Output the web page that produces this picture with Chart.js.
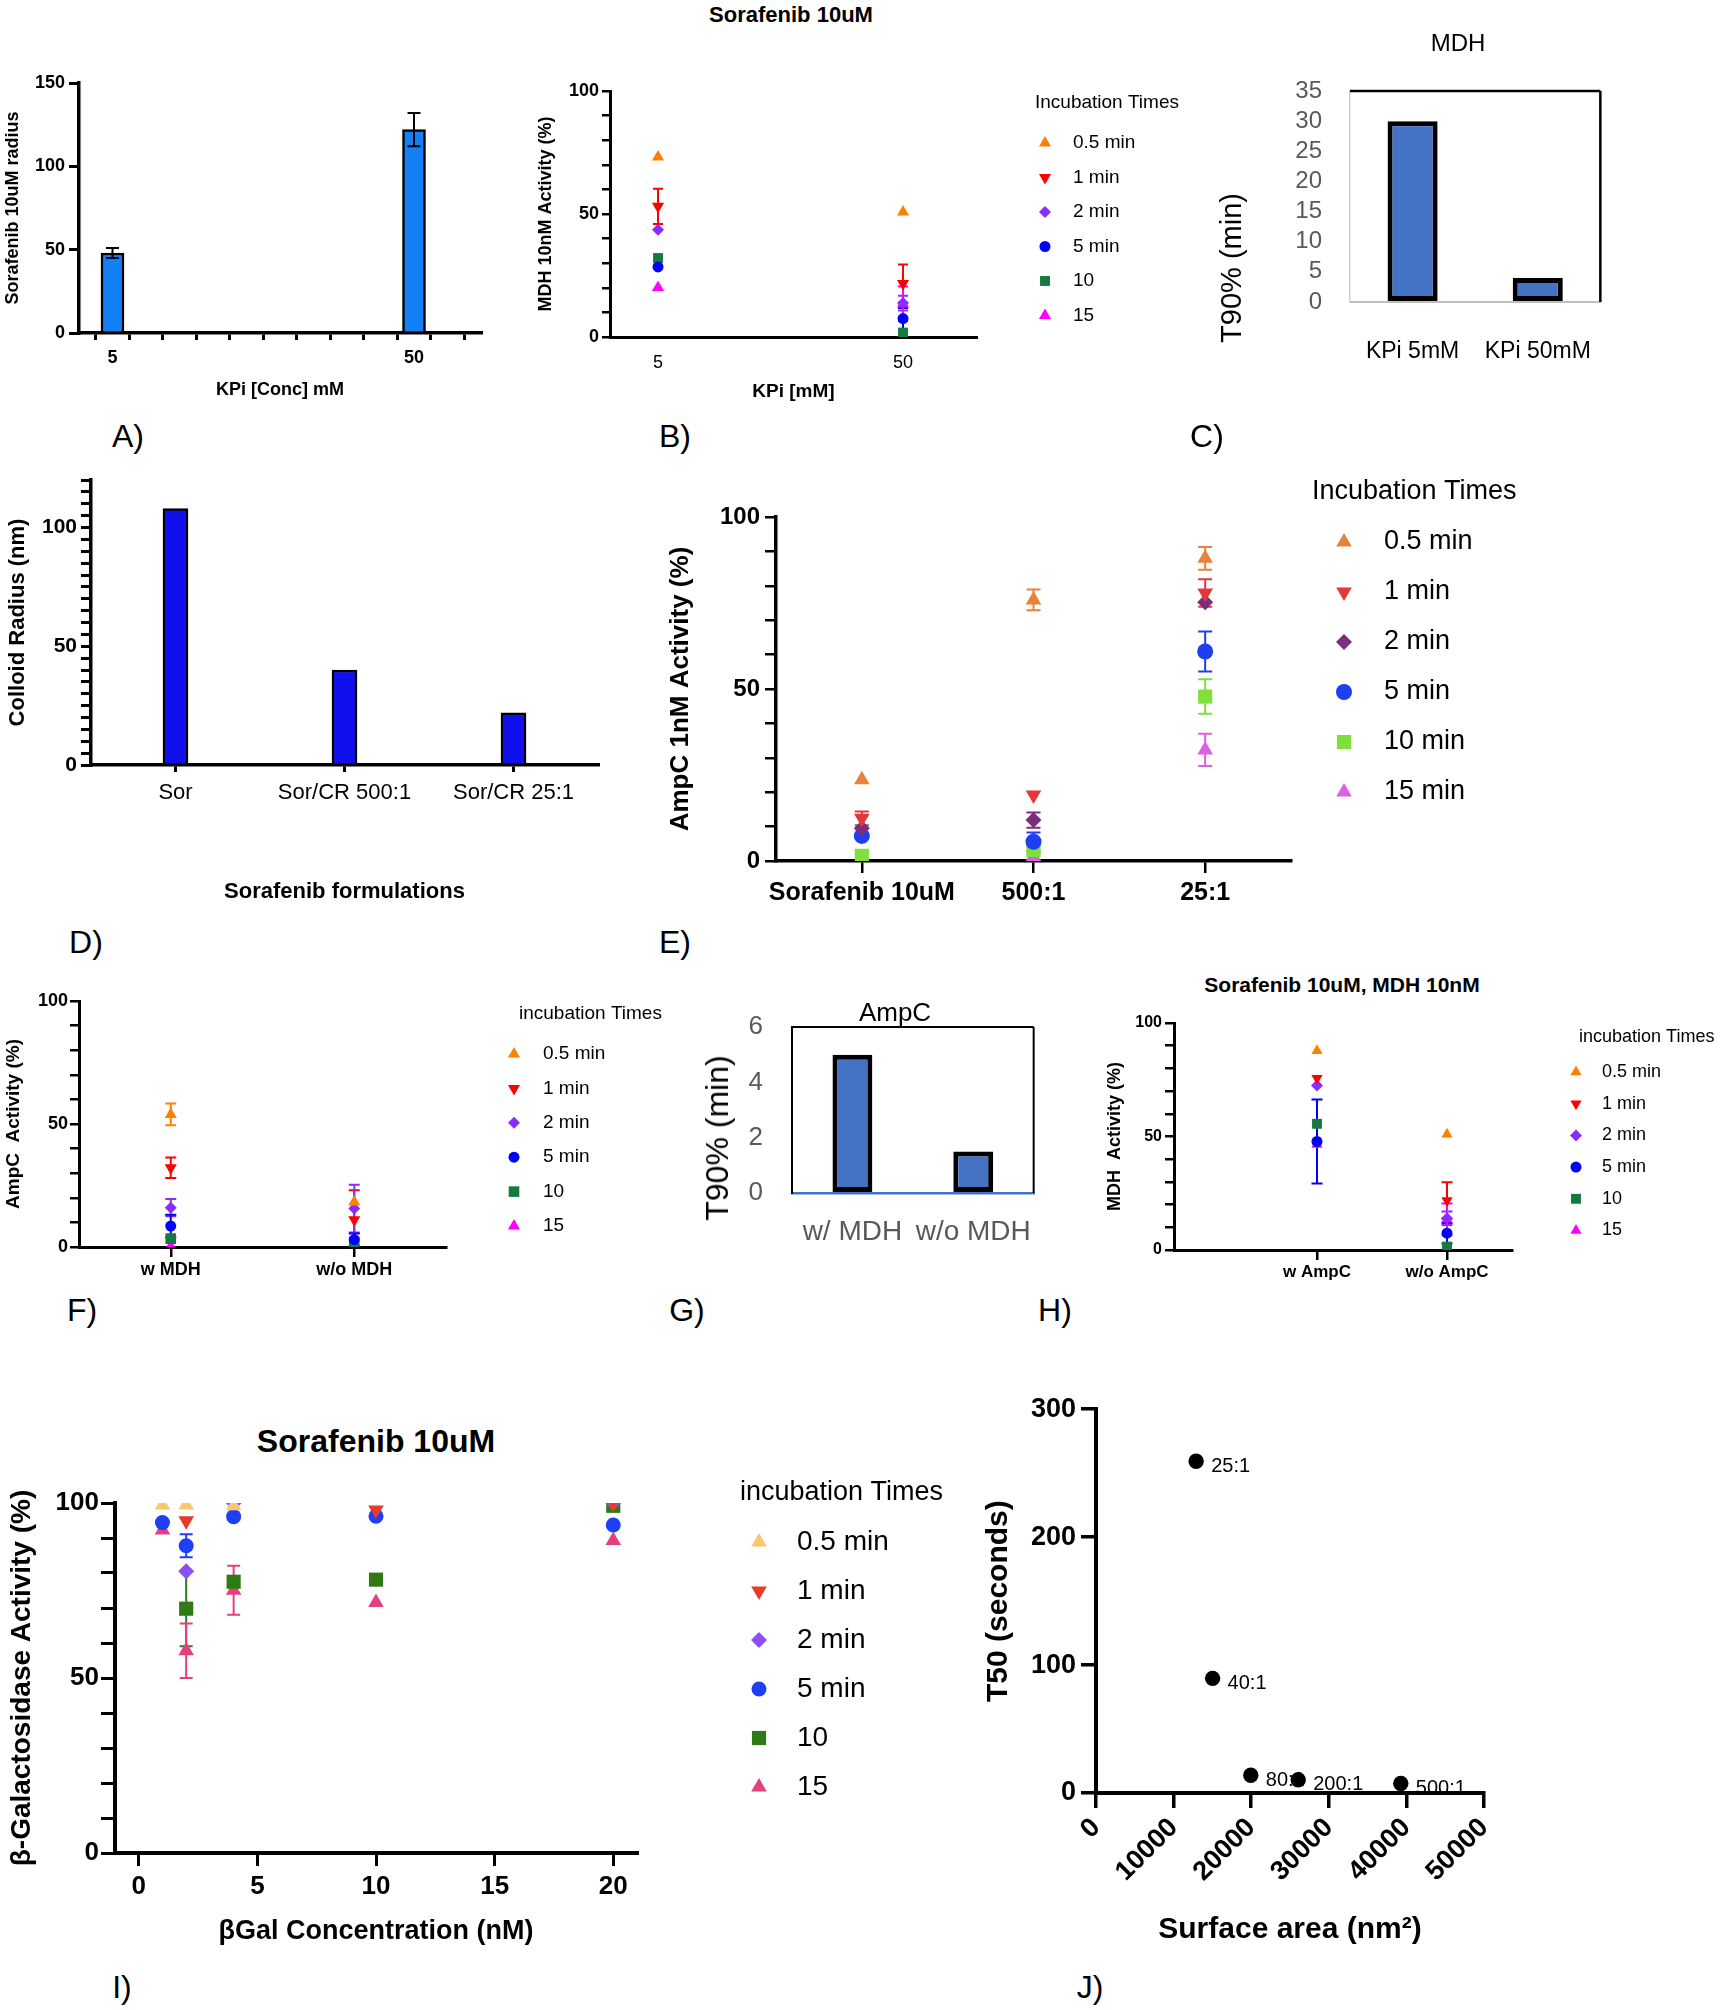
<!DOCTYPE html>
<html><head><meta charset="utf-8">
<script src="https://cdn.jsdelivr.net/npm/chart.js@4.4.1/dist/chart.umd.min.js"></script>
<style>
html,body{margin:0;padding:0;background:#fff;}
body{position:relative;width:1720px;height:2010px;overflow:hidden;font-family:"Liberation Sans",Arial,sans-serif;}
.cbox{position:absolute;}
.lbl{position:absolute;transform:translate(-50%,-50%);white-space:nowrap;line-height:1;color:#000;}
.lbl.rot{transform:translate(-50%,-50%) rotate(-90deg);}
</style></head><body>
<script>
// ---------------- DATA ----------------
const A_conc = [5, 50];
const A_radius = [48, 122];
const A_err = [3, 10];
const A_xTicks = [0,5,10,15,20,25,30,35,40,45,50,55,60];
const A_xLabeled = [5, 50];

const B_kpi = ['5', '50'];
const B_times = ['0.5 min','1 min','2 min','5 min','10','15'];
const B_activity = [[73.2,50.8],[53.1,21.7],[43.6,13.8],[28.5,7.5],[32.1,1.8],[20.1,13.5]];
const B_err = [[0,0],[7.2,7.8],[0,3],[0,4.3],[0,0],[0,7]];

const C_cats = ['KPi 5mM','KPi 50mM'];
const C_t90 = [30, 4];

const D_cats = ['Sor','Sor/CR 500:1','Sor/CR 25:1'];
const D_radius = [108, 40, 22];

const E_cats = ['Sorafenib 10uM','500:1','25:1'];
const E_times = ['0.5 min','1 min','2 min','5 min','10 min','15 min'];
const E_activity = [[23.6,75.9,88],[12.4,19.2,77.9],[9.5,11.9,75.2],[7.3,5.6,60.9],[1.3,3.2,47.8],[0.5,1.3,32.3]];
const E_err = [[0,3,3.3],[2,0,4],[0,2.2,0],[0,2.7,5.8],[2,1,5],[0,0,4.7]];

const F_cats = ['w MDH','w/o MDH'];
const F_times = ['0.5 min','1 min','2 min','5 min','10','15'];
const F_activity = [[53.9,18.3],[32.2,11.1],[16,15.6],[8.5,3],[3.4,2],[0.3,0.7]];
const F_err = [[4.4,0],[4.2,12],[3.5,9.7],[4.6,2.5],[0,0],[0,0]];

const G_cats = ['w/ MDH','w/o MDH'];
const G_t90 = [5, 1.5];

const H_cats = ['w AmpC','w/o AmpC'];
const H_times = ['0.5 min','1 min','2 min','5 min','10','15'];
const H_activity = [[87.8,51],[75.7,21.8],[72.5,14],[47.8,7.4],[55.6,1.5],[46.5,13.5]];
const H_err = [[0,0],[0,8],[0,3],[18.5,4.5],[0,0],[0,7]];

const I_conc = [1, 2, 4, 10, 20];
const I_times = ['0.5 min','1 min','2 min','5 min','10','15'];
const I_activity = [
  [99.4, 99.4, 99.2, null, null],
  [null, 94.9, null, 98, 100],
  [null, 80.5, 100, null, 100],
  [94.4, 87.8, 96.1, 96.2, 93.7],
  [null, 69.8, 77.5, 78.1, 99.2],
  [92.3, 57.8, 75.1, 71.6, 89.3]];
const I_err = [[0,0,0,0,0],[0,0,0,0,0],[0,0,0,0,0],[0,3.3,0,0,0],[0,10.7,0,0,0],[0,7.8,7,0,0]];
const I_xTicks = [0, 5, 10, 15, 20];

const J_area = [12905, 15025, 19950, 26060, 39277];
const J_t50 = [259.3, 89.6, 13.9, 10.3, 7.4];
const J_ratio = ['25:1','40:1','80:1','200:1','500:1'];

// ---------------- STYLES ----------------
const FF = '"Liberation Sans", Arial, Helvetica, sans-serif';
const STYLES = [{s:'triangle',r:0},{s:'triangle',r:180},{s:'rectRot',r:0},{s:'circle',r:0},{s:'rect',r:0},{s:'triangle',r:0}];
const PAL_GP = ['#ff8000','#ff0000','#8a2cff','#0000ff','#16793f','#ff00ff'];
const PAL_E = ['#e8813a','#e23838','#7a2e7c','#1e3ff0','#7fe03c','#dc60e2'];
const PAL_I = ['#f9c86e','#e53a2d','#8c4ef5','#1f3ff5','#2f7a14','#e2407f'];

Chart.defaults.font.family = FF;
Chart.defaults.color = '#000';
Chart.defaults.animation = false;
Chart.defaults.plugins.legend.display = false;
Chart.defaults.plugins.tooltip.enabled = false;

function drawMarker(ctx, style, x, y, r, rot) {
  ctx.beginPath();
  if (style === 'circle') ctx.arc(x, y, r, 0, Math.PI * 2);
  else if (style === 'rect') { const s = r * Math.SQRT1_2; ctx.rect(x - s, y - s, 2 * s, 2 * s); }
  else if (style === 'rectRot') { ctx.moveTo(x - r, y); ctx.lineTo(x, y - r); ctx.lineTo(x + r, y); ctx.lineTo(x, y + r); ctx.closePath(); }
  else {
    let a = (rot || 0) * Math.PI / 180;
    for (let k = 0; k < 3; k++) { const px = x + Math.sin(a) * r, py = y - Math.cos(a) * r; if (k) ctx.lineTo(px, py); else ctx.moveTo(px, py); a += 2 * Math.PI / 3; }
    ctx.closePath();
  }
  ctx.fill();
}

function drawErr(chart, o) {
  const ctx = chart.ctx, a = chart.chartArea;
  ctx.save();
  ctx.beginPath(); ctx.rect(a.left - 20, a.top - 20, a.right - a.left + 40, a.bottom - a.top + 19); ctx.clip();
  chart.data.datasets.forEach((ds, i) => {
    if (!ds.errors) return;
    const meta = chart.getDatasetMeta(i);
    const ys = chart.scales[meta.yAxisID];
    meta.data.forEach((el, j) => {
      const e = ds.errors[j], d = ds.data[j];
      const v = (d !== null && typeof d === 'object') ? d.y : d;
      if (!e || v === null || v === undefined) return;
      const x = el.x, y1 = ys.getPixelForValue(v + e), y2 = ys.getPixelForValue(v - e), c = o.cap / 2;
      ctx.strokeStyle = ds.errorColor || ds.borderColor;
      ctx.lineWidth = o.lineWidth;
      ctx.beginPath();
      ctx.moveTo(x, y1); ctx.lineTo(x, y2);
      ctx.moveTo(x - c, y1); ctx.lineTo(x + c, y1);
      ctx.moveTo(x - c, y2); ctx.lineTo(x + c, y2);
      ctx.stroke();
    });
  });
  ctx.restore();
}
const errorBars = {
  id: 'errorBars',
  beforeDatasetsDraw(chart, args, o) { if (o && o.cap && !o.above) drawErr(chart, o); },
  afterDatasetsDraw(chart, args, o) { if (o && o.cap && o.above) drawErr(chart, o); }
};
const sideLegend = {
  id: 'sideLegend',
  afterDraw(chart, args, o) {
    if (!o || !o.title) return;
    const ctx = chart.ctx, ox = o.ox, oy = o.oy;
    ctx.save();
    ctx.textBaseline = 'middle'; ctx.textAlign = 'left'; ctx.fillStyle = '#000';
    ctx.font = o.titleSize + 'px ' + FF;
    ctx.fillText(o.title, o.titleX - ox, o.titleY - oy);
    ctx.font = o.size + 'px ' + FF;
    chart.data.datasets.forEach((ds, i) => {
      const y = o.y0 + i * o.dy - oy;
      ctx.fillStyle = ds.backgroundColor;
      drawMarker(ctx, ds.pointStyle, o.markerX - ox, y, ds.pointRadius * (o.rScale || 1), ds.pointRotation);
      ctx.fillStyle = '#000';
      ctx.fillText(ds.label, o.textX - ox, y);
    });
    ctx.restore();
  }
};
const frame = {
  id: 'frame',
  afterDraw(chart, args, o) {
    if (!o || !o.sides) return;
    const ctx = chart.ctx, a = chart.chartArea;
    ctx.save();
    o.sides.forEach(s => {
      ctx.strokeStyle = s.color; ctx.lineWidth = s.width; ctx.beginPath();
      if (s.side === 'top') { ctx.moveTo(a.left, a.top); ctx.lineTo(a.right, a.top); }
      if (s.side === 'right') { ctx.moveTo(a.right, a.top); ctx.lineTo(a.right, a.bottom); }
      if (s.side === 'left') { ctx.moveTo(a.left, a.top); ctx.lineTo(a.left, a.bottom); }
      if (s.side === 'bottom') { ctx.moveTo(a.left, a.bottom); ctx.lineTo(a.right, a.bottom); }
      ctx.stroke();
    });
    ctx.restore();
  }
};
const pointLabels = {
  id: 'pointLabels',
  beforeDatasetsDraw(chart, args, o) {
    if (!o || !o.labels) return;
    const ctx = chart.ctx, meta = chart.getDatasetMeta(0);
    ctx.save(); ctx.font = o.size + 'px ' + FF; ctx.fillStyle = '#000'; ctx.textBaseline = 'middle'; ctx.textAlign = 'left';
    meta.data.forEach((el, j) => ctx.fillText(o.labels[j], el.x + o.dx, el.y + o.dy));
    ctx.restore();
  }
};
Chart.register(errorBars, sideLegend, frame, pointLabels);

function linAxis(p) {
  return {
    type: 'linear', min: p.min, max: p.max, offset: false,
    afterBuildTicks: p.ticks ? (sc => { sc.ticks = p.ticks.map(v => ({value: v})); }) : undefined,
    ticks: {stepSize: p.step, autoSkip: false, maxRotation: p.rot || 0, minRotation: p.rot || 0, padding: p.pad || 3,
      color: p.color || '#000', font: {size: p.size, weight: p.bold ? 'bold' : 'normal'},
      callback: p.fmt || (v => v)},
    grid: {display: true, drawOnChartArea: false, drawTicks: (p.tl || 0) > 0, tickLength: p.tl || 0, tickWidth: p.tw || 2, lineWidth: p.tw || 2, tickColor: '#000', color: '#000'},
    border: {display: true, color: p.bc || '#000', width: p.bw},
    title: p.title ? {display: true, text: p.title, color: '#000', font: {size: p.tsize, weight: p.tbold ? 'bold' : 'normal'}} : {display: false}
  };
}
function catAxis(p) {
  return {
    type: 'category', offset: true,
    ticks: {autoSkip: false, maxRotation: 0, minRotation: 0, padding: 3, color: p.color || '#000', font: {size: p.size, weight: p.bold ? 'bold' : 'normal'}},
    grid: {display: true, drawOnChartArea: false, offset: false, drawTicks: (p.tl || 0) > 0, tickLength: p.tl || 0, tickWidth: p.tw || 2, lineWidth: p.tw || 2, tickColor: '#000', color: '#000'},
    border: {display: true, color: p.bc || '#000', width: p.bw},
    title: p.title ? {display: true, text: p.title, color: '#000', font: {size: p.tsize, weight: p.tbold ? 'bold' : 'normal'}} : {display: false}
  };
}
function seriesSets(names, vals, errs, colors, radii, xVals) {
  return names.map((n, i) => ({
    label: n,
    data: xVals ? vals[i].map((v, k) => ({x: xVals[k], y: v})) : vals[i],
    errors: errs ? errs[i] : null,
    pointStyle: STYLES[i].s, pointRotation: STYLES[i].r, pointRadius: radii[i], pointHoverRadius: radii[i],
    backgroundColor: colors[i], borderColor: colors[i], pointBackgroundColor: colors[i], pointBorderWidth: 0, borderWidth: 0, showLine: false
  }));
}
function make(area, s, config) {
  const padL = s.padL || 0, padB = s.padB || 0;
  const left = area.l - s.yW - padL, top = area.t - s.padT;
  const W = area.r - area.l + s.yW + padL + s.padR;
  const H = area.b - area.t + s.padT + s.xH + padB;
  const div = document.createElement('div'); div.className = 'cbox';
  div.style.left = left + 'px'; div.style.top = top + 'px'; div.style.width = W + 'px'; div.style.height = H + 'px';
  const cv = document.createElement('canvas'); cv.width = W; cv.height = H; cv.style.width = W + 'px'; cv.style.height = H + 'px';
  div.appendChild(cv); document.body.appendChild(div);
  const o = config.options;
  o.responsive = false; o.animation = false;
  o.layout = {padding: {left: padL, top: s.padT, right: s.padR, bottom: padB}};
  const x = o.scales.x, y = o.scales.y;
  x.afterFit = sc => { sc.height = s.xH; };
  y.afterFit = sc => { sc.width = s.yW; };
  const ytl = y.grid.drawTicks ? y.grid.tickLength : 0;
  const xtl = x.grid.drawTicks ? x.grid.tickLength : 0;
  if (s.yLabelR != null) y.ticks.padding = area.l - ytl - s.yLabelR;
  if (s.xLabelY != null) x.ticks.padding = s.xLabelY - area.b - xtl - 0.6 * x.ticks.font.size;
  if (s.yTitleX != null) y.title.padding = {top: s.yTitleX - (area.l - s.yW) - 0.6 * y.title.font.size, bottom: 0};
  if (s.xTitleY != null) x.title.padding = {top: 0, bottom: area.b + s.xH - 0.6 * x.title.font.size - s.xTitleY};
  o.plugins = o.plugins || {};
  if (o.plugins.sideLegend) { o.plugins.sideLegend.ox = left; o.plugins.sideLegend.oy = top; }
  return new Chart(cv, config);
}
function addText(t, cx, cy, size, weight, color, rot) {
  const d = document.createElement('div'); d.className = 'lbl' + (rot ? ' rot' : ''); d.textContent = t;
  d.style.left = cx + 'px'; d.style.top = cy + 'px'; d.style.fontSize = size + 'px';
  d.style.fontWeight = weight || 'normal'; if (color) d.style.color = color;
  document.body.appendChild(d);
}

// ---------------- PANEL A ----------------
make({l: 79, t: 83, r: 481, b: 333}, {yW: 79, xH: 72, padT: 20, padR: 20, yLabelR: 65, xLabelY: 358, yTitleX: 13, xTitleY: 390}, {
  type: 'bar',
  data: {datasets: [{label: 'Sorafenib 10uM radius', data: A_conc.map((c, k) => ({x: c, y: A_radius[k]})), errors: A_err,
    backgroundColor: '#1380f5', borderColor: '#000', errorColor: '#000', borderWidth: 2.5, barThickness: 23}]},
  options: {
    scales: {
      x: linAxis({min: 0, max: 60, ticks: A_xTicks, size: 18, bold: true, tl: 7, tw: 3, bw: 3.5,
        fmt: v => A_xLabeled.includes(v) ? String(v) : '', title: 'KPi [Conc] mM', tsize: 18, tbold: true}),
      y: linAxis({min: 0, max: 150, step: 50, size: 18, bold: true, tl: 10, tw: 3, bw: 3.5, title: 'Sorafenib 10uM radius', tsize: 18, tbold: true})
    },
    plugins: {errorBars: {cap: 13, lineWidth: 2, above: true}}
  }
});

// ---------------- PANEL B ----------------
make({l: 610, t: 91, r: 977, b: 337}, {yW: 80, xH: 70, padT: 30, padR: 213, yLabelR: 599, xLabelY: 363, yTitleX: 546, xTitleY: 392}, {
  type: 'scatter',
  data: {datasets: seriesSets(B_times, B_activity, B_err, PAL_GP, [7, 7, 6, 5.5, 7, 7], [0, 1])},
  options: {
    scales: {
      x: linAxis({min: -0.196, max: 1.302, ticks: [0, 1], size: 18, tl: 0, bw: 3, fmt: v => B_kpi[v], title: 'KPi [mM]', tsize: 19, tbold: true}),
      y: linAxis({min: 0, max: 100, step: 10, size: 18, bold: true, tl: 8, tw: 2.5, bw: 3,
        fmt: v => [0, 50, 100].includes(v) ? String(v) : '', title: 'MDH 10nM Activity (%)', tsize: 18, tbold: true})
    },
    plugins: {
      errorBars: {cap: 10, lineWidth: 2},
      sideLegend: {title: 'Incubation Times', titleX: 1035, titleY: 103, titleSize: 19, size: 19, markerX: 1045, textX: 1073, y0: 143, dy: 34.5}
    }
  }
});
addText('Sorafenib 10uM', 791, 15, 22, 'bold');

// ---------------- PANEL C ----------------
make({l: 1350, t: 91, r: 1612, b: 302}, {yW: 150, xH: 80, padT: 50, padR: 20, yLabelR: 1322, xLabelY: 352}, {
  type: 'bar',
  data: {labels: C_cats, datasets: [{label: 'T90%', data: C_t90, backgroundColor: '#4472c4', borderColor: '#000', borderWidth: 5, borderSkipped: false, barPercentage: 0.4, categoryPercentage: 1}]},
  options: {
    scales: {
      x: catAxis({size: 23, tl: 0, bw: 2, bc: '#bfbfbf'}),
      y: linAxis({min: 0, max: 35, step: 5, size: 24, color: '#595959', tl: 0, bw: 1.5, bc: '#d0d0d0'})
    },
    plugins: {frame: {sides: [{side: 'top', color: '#000', width: 2.5}, {side: 'right', color: '#000', width: 2.5}]}}
  }
});
addText('MDH', 1458, 43, 24);
addText('T90% (min)', 1231, 268, 29, 'normal', '#000', true);

// ---------------- PANEL D ----------------
make({l: 91, t: 480, r: 598, b: 765}, {yW: 91, xH: 145, padT: 20, padR: 20, yLabelR: 77, xLabelY: 793, yTitleX: 18, xTitleY: 892}, {
  type: 'bar',
  data: {labels: D_cats, datasets: [{label: 'Colloid Radius (nm)', data: D_radius, backgroundColor: '#1010ee', borderColor: '#000', borderWidth: 2.5, barThickness: 25}]},
  options: {
    scales: {
      x: Object.assign(catAxis({size: 22, tl: 7, tw: 3, bw: 3.5, title: 'Sorafenib formulations', tsize: 22, tbold: true}), {offset: true}),
      y: linAxis({min: 0, max: 120, step: 5, size: 21, bold: true, tl: 10, tw: 3, bw: 3.5,
        fmt: v => [0, 50, 100].includes(v) ? String(v) : '', title: 'Colloid Radius (nm)', tsize: 22, tbold: true})
    }
  }
});

// ---------------- PANEL E ----------------
make({l: 776, t: 517, r: 1291, b: 861}, {yW: 116, xH: 60, padT: 45, padR: 240, yLabelR: 760, xLabelY: 893, yTitleX: 681}, {
  type: 'line',
  data: {labels: E_cats, datasets: seriesSets(E_times, E_activity, E_err, PAL_E, [9, 9, 8, 8, 10, 9])},
  options: {
    scales: {
      x: catAxis({size: 25, bold: true, tl: 12, tw: 2.5, bw: 3.5}),
      y: linAxis({min: 0, max: 100, step: 10, size: 24, bold: true, tl: 11, tw: 2.5, bw: 3.5,
        fmt: v => [0, 50, 100].includes(v) ? String(v) : '', title: 'AmpC 1nM Activity (%)', tsize: 26, tbold: true})
    },
    plugins: {
      errorBars: {cap: 14, lineWidth: 2},
      sideLegend: {title: 'Incubation Times', titleX: 1312, titleY: 492, titleSize: 27, size: 27, markerX: 1344, textX: 1384, y0: 542, dy: 50}
    }
  }
});

// ---------------- PANEL F ----------------
make({l: 79, t: 1001, r: 446, b: 1247}, {yW: 79, xH: 40, padT: 25, padR: 234, yLabelR: 68, xLabelY: 1270, yTitleX: 14}, {
  type: 'line',
  data: {labels: F_cats, datasets: seriesSets(F_times, F_activity, F_err, PAL_GP, [7, 7, 6, 5.5, 7.5, 7])},
  options: {
    scales: {
      x: catAxis({size: 18, bold: true, tl: 10, tw: 2.5, bw: 3}),
      y: linAxis({min: 0, max: 100, step: 10, size: 18, bold: true, tl: 9, tw: 2.5, bw: 3,
        fmt: v => [0, 50, 100].includes(v) ? String(v) : '', title: 'AmpC  Activity (%)', tsize: 19, tbold: true})
    },
    plugins: {
      errorBars: {cap: 11, lineWidth: 2},
      sideLegend: {title: 'incubation Times', titleX: 519, titleY: 1014, titleSize: 19, size: 19, markerX: 514, textX: 543, y0: 1054, dy: 34.4}
    }
  }
});

// ---------------- PANEL G ----------------
make({l: 792, t: 1027, r: 1038, b: 1193}, {yW: 102, xH: 60, padT: 50, padR: 20, yLabelR: 763, xLabelY: 1232}, {
  type: 'bar',
  data: {labels: G_cats, datasets: [{label: 'T90%', data: G_t90, backgroundColor: '#4472c4', borderColor: '#000', borderWidth: 5, borderSkipped: false, barPercentage: 0.33, categoryPercentage: 1}]},
  options: {
    scales: {
      x: catAxis({size: 28, color: '#595959', tl: 0, bw: 2.5, bc: '#4472c4'}),
      y: linAxis({min: 0, max: 6, step: 2, size: 26, color: '#595959', tl: 0, bw: 2, bc: '#000'})
    },
    plugins: {frame: {sides: [{side: 'top', color: '#000', width: 2}, {side: 'right', color: '#000', width: 2}]}}
  }
});
addText('AmpC', 895, 1012, 26);
addText('T90% (min)', 717, 1138, 32, 'normal', '#000', true);

// ---------------- PANEL H ----------------
make({l: 1174, t: 1023, r: 1512, b: 1250}, {yW: 74, xH: 40, padT: 25, padR: 208, yLabelR: 1162, xLabelY: 1272, yTitleX: 1115}, {
  type: 'scatter',
  data: {datasets: seriesSets(H_times, H_activity, H_err, PAL_GP, [6.5, 6.5, 6, 5.5, 7, 6.5], [0, 1])},
  options: {
    scales: {
      x: linAxis({min: -1.1, max: 1.5, ticks: [0, 1], size: 17, bold: true, tl: 10, tw: 2.5, bw: 3, fmt: v => H_cats[v]}),
      y: linAxis({min: 0, max: 100, step: 10, size: 16, bold: true, tl: 9, tw: 2.5, bw: 3,
        fmt: v => [0, 50, 100].includes(v) ? String(v) : '', title: 'MDH  Activity (%)', tsize: 18, tbold: true})
    },
    plugins: {
      errorBars: {cap: 11, lineWidth: 2},
      sideLegend: {title: 'incubation Times', titleX: 1579, titleY: 1037, titleSize: 18, size: 18, markerX: 1576, textX: 1602, y0: 1072, dy: 31.7}
    }
  }
});
addText('Sorafenib 10uM, MDH 10nM', 1342, 984, 21, 'bold');

// ---------------- PANEL I ----------------
make({l: 115, t: 1503, r: 637, b: 1853}, {yW: 115, xH: 100, padT: 30, padR: 324, yLabelR: 99, xLabelY: 1887, yTitleX: 22, xTitleY: 1932}, {
  type: 'scatter',
  data: {datasets: seriesSets(I_times, I_activity, I_err, PAL_I, [9, 9, 8, 7.5, 10, 9], I_conc)},
  options: {
    scales: {
      x: linAxis({min: -1, max: 21, ticks: I_xTicks, size: 26, bold: true, tl: 13, tw: 3, bw: 4, title: 'βGal Concentration (nM)', tsize: 27, tbold: true}),
      y: linAxis({min: 0, max: 100, step: 10, size: 26, bold: true, tl: 14, tw: 3, bw: 4,
        fmt: v => [0, 50, 100].includes(v) ? String(v) : '', title: 'β-Galactosidase Activity (%)', tsize: 28, tbold: true})
    },
    plugins: {
      errorBars: {cap: 13, lineWidth: 2},
      sideLegend: {title: 'incubation Times', titleX: 740, titleY: 1493, titleSize: 27, size: 28, markerX: 759, textX: 797, y0: 1542, dy: 49}
    }
  }
});
addText('Sorafenib 10uM', 376, 1441, 32, 'bold');

// ---------------- PANEL J ----------------
make({l: 1096, t: 1408, r: 1484, b: 1793}, {yW: 121, xH: 160, padT: 20, padR: 80, yLabelR: 1076, yTitleX: 999, xTitleY: 1930}, {
  type: 'scatter',
  data: {datasets: [{label: 'T50', data: J_area.map((a, k) => ({x: a, y: J_t50[k]})), pointStyle: 'circle', pointRadius: 7.7, backgroundColor: '#000', borderColor: '#000', pointBorderWidth: 0}]},
  options: {
    scales: {
      x: linAxis({min: 0, max: 50000, step: 10000, size: 27, bold: true, tl: 15, tw: 3.5, bw: 4, rot: 45, pad: 4, title: 'Surface area (nm²)', tsize: 30, tbold: true}),
      y: linAxis({min: 0, max: 300, step: 100, size: 27, bold: true, tl: 15, tw: 3.5, bw: 4, title: 'T50 (seconds)', tsize: 30, tbold: true})
    },
    plugins: {pointLabels: {labels: J_ratio, dx: 15, dy: 5, size: 20}}
  }
});

// ---------------- PANEL LETTERS ----------------
[['A)', 128, 436], ['B)', 675, 436], ['C)', 1207, 436], ['D)', 86, 942], ['E)', 675, 942],
 ['F)', 82, 1310], ['G)', 687, 1310], ['H)', 1055, 1310], ['I)', 122, 1987], ['J)', 1090, 1987]]
  .forEach(p => addText(p[0], p[1], p[2], 32));
</script>
</body></html>
